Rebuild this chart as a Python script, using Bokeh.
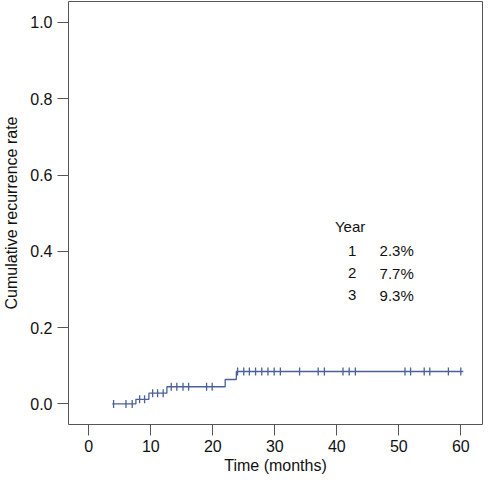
import numpy as np
from bokeh.plotting import figure
from bokeh.models import FixedTicker, NumeralTickFormatter, ColumnDataSource, Range1d
from bokeh.core.properties import value
from bokeh.embed import file_html
from bokeh.resources import INLINE

# ---- data ----
step_times = [3.8, 7.6, 9.7, 12.6, 22.0, 23.8, 60.4]
step_levels = [0.0, 0.012, 0.028, 0.045, 0.064, 0.085, 0.085]
censor_times = [4.0, 6.0, 7.0,
                8.2, 9.0,
                10.3, 11.1, 12.0,
                13.3, 14.2, 15.2, 16.1, 19.0, 19.9,
                24.0, 25.0, 25.9, 26.9, 27.9, 28.9, 29.9, 30.9, 34.0, 37.0, 38.0,
                41.0, 42.0, 43.0, 51.0, 51.9, 54.1, 55.0, 58.0, 60.0]
x_ticks = [0, 10, 20, 30, 40, 50, 60]
y_ticks = [0.0, 0.2, 0.4, 0.6, 0.8, 1.0]
table_title = "Year"
table_years = ["1", "2", "3"]
table_rates = ["2.3%", "7.7%", "9.3%"]

# censored marks sit on the step curve
st = np.array(step_times)
sl = np.array(step_levels)
censor_levels = [float(sl[np.searchsorted(st, t, side="right") - 1]) for t in censor_times]

FONT = "Liberation Sans"
CURVE = "#4A6196"
AXIS = "#555555"

p = figure(frame_width=414, frame_height=423,
           x_range=Range1d(-3.27, 63.5), y_range=Range1d(-0.054, 1.055),
           output_backend="svg", toolbar_location=None,
           min_border_left=64, min_border_top=1, min_border_right=1, min_border_bottom=10,
           background_fill_color="white", border_fill_color="white")

p.outline_line_color = AXIS
p.outline_line_width = 1
p.xgrid.visible = False
p.ygrid.visible = False

# curve
p.step(step_times, step_levels, mode="after", line_color=CURVE, line_width=1.3)
p.scatter(censor_times, censor_levels, marker="dash", angle=np.pi / 2, size=8,
          line_color=CURVE, line_width=1.3)

# axes
for ax in (p.xaxis[0], p.yaxis[0]):
    ax.axis_line_color = None
    ax.major_tick_line_color = AXIS
    ax.major_tick_out = 11
    ax.major_tick_in = 0
    ax.minor_tick_line_color = None
    ax.major_label_text_font = FONT
    ax.major_label_text_font_size = "16px"
    ax.major_label_text_color = "#111111"
    ax.axis_label_text_font = FONT
    ax.axis_label_text_font_size = "16px"
    ax.axis_label_text_font_style = "normal"
    ax.axis_label_text_color = "#111111"

p.xaxis.ticker = FixedTicker(ticks=x_ticks)
p.yaxis.ticker = FixedTicker(ticks=y_ticks)
p.yaxis.formatter = NumeralTickFormatter(format="0.0")
p.xaxis.axis_label = "Time (months)"
p.yaxis.axis_label = "Cumulative recurrence rate"
p.xaxis.major_label_standoff = 4
p.yaxis.major_label_standoff = 5
p.xaxis.axis_label_standoff = 2
p.yaxis.axis_label_standoff = 7

# small table of yearly rates
title_x, title_y = 39.7, 0.466
year_x, rate_x = 42.5, 46.9
row_y = [0.401, 0.343, 0.285]
p.text([title_x], [title_y], text=[table_title], text_font=value(FONT),
       text_font_size="15px", text_color="#111111", text_baseline="middle", text_align="left")
src = ColumnDataSource(dict(yx=[year_x] * 3, rx=[rate_x] * 3, y=row_y,
                            years=table_years, rates=table_rates))
p.text(x="yx", y="y", text="years", source=src, text_font=value(FONT),
       text_font_size="15px", text_color="#111111", text_baseline="middle", text_align="center")
p.text(x="rx", y="y", text="rates", source=src, text_font=value(FONT),
       text_font_size="15px", text_color="#111111", text_baseline="middle", text_align="left")

open("out.html", "w").write(file_html(p, INLINE))
